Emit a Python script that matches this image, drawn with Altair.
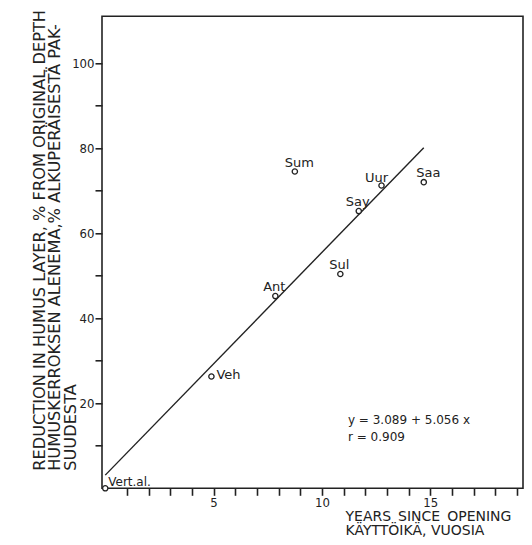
import altair as alt
import pandas as pd

# ---- data ----
site = ["Vert.al.", "Veh", "Ant", "Sum", "Sul", "Say", "Uur", "Saa"]
years = [0.0, 4.9, 7.85, 8.75, 10.85, 11.7, 12.75, 14.7]
reduction = [0.0, 26.3, 45.2, 74.5, 50.4, 65.2, 71.2, 72.0]

fit_years = [0.0, 14.7]
fit_reduction = [3.1, 80.1]

eq_lines = ["y = 3.089 + 5.056 x", "r = 0.909"]
eq_years = [11.2]
eq_reduction = [15.1]

x_tick_values = list(range(1, 20))
y_tick_values = list(range(10, 101, 10))

x_title = ["YEARS\u2002SINCE\u2002OPENING", "KÄYTTÖIKÄ, VUOSIA"]
y_title = [
    "REDUCTION IN HUMUS LAYER, % FROM ORIGINAL DEPTH",
    "HUMUSKERROKSEN ALENEMA,% ALKUPERÄISESTÄ PAK-",
    "SUUDESTA",
]

INK = "#222222"
FONT = "DejaVu Sans"
NUM_FONT = "DejaVu Sans Condensed, DejaVu Sans"

df = pd.DataFrame({"site": site, "years": years, "reduction": reduction})
fit_df = pd.DataFrame({"years": fit_years, "reduction": fit_reduction})
eq_df = pd.DataFrame({"years": eq_years, "reduction": eq_reduction,
                      "text": ["\n".join(eq_lines)]})

x_axis = alt.Axis(
    values=x_tick_values,
    labelExpr="datum.value % 5 === 0 ? datum.label : ''",
    title=x_title, titleX=243, titleY=31.7, titleAlign="left",
    titleBaseline="alphabetic", titleAngle=0, titleFontSize=14,
    titleLineHeight=14.5, titleFontWeight="normal", titleFont=FONT,
    titleColor=INK, grid=False, domain=False, tickSize=7, tickWidth=1.6,
    tickColor=INK, labelFont=NUM_FONT, labelFontSize=13, labelPadding=1.5,
    labelColor=INK,
)
y_axis = alt.Axis(
    values=y_tick_values,
    labelExpr="datum.value % 20 === 0 ? datum.label : ''",
    title=y_title, titleX=-71, titleY=454, titleAlign="left",
    titleBaseline="top", titleAngle=270, titleFontSize=16.2,
    titleLineHeight=15.5, titleFontWeight="normal", titleFont=FONT,
    titleColor=INK, grid=False, domain=False, tickSize=7, tickWidth=1.6,
    tickColor=INK, labelFont=NUM_FONT, labelFontSize=13, labelPadding=1,
    labelColor=INK,
)

X = alt.X("years:Q", scale=alt.Scale(domain=[-0.15, 19.28], nice=False, zero=False), axis=x_axis)
Y = alt.Y("reduction:Q", scale=alt.Scale(domain=[0, 111], nice=False, zero=False), axis=y_axis)

line = alt.Chart(fit_df).mark_line(color=INK, strokeWidth=1.4).encode(x=X, y=Y)

points = alt.Chart(df).mark_point(
    shape="circle", size=28, fill="white", fillOpacity=1, stroke=INK,
    strokeWidth=1.3, opacity=1
).encode(x=X, y=Y)

label_groups = [
    (["Say", "Sul", "Ant"], "center", -1, -5, 13),
    (["Sum", "Saa"], "center", 4.5, -5, 13),
    (["Uur"], "center", -5, -4, 13),
    (["Veh"], "left", 5, 3, 13),
    (["Vert.al."], "left", 3, -2, 12),
]
label_layers = []
for names, align, dx, dy, fs in label_groups:
    label_layers.append(
        alt.Chart(df)
        .transform_filter(alt.FieldOneOfPredicate(field="site", oneOf=names))
        .mark_text(align=align, baseline="alphabetic", dx=dx, dy=dy,
                   font=FONT, fontSize=fs, color=INK)
        .encode(x=X, y=Y, text="site:N")
    )

eq = alt.Chart(eq_df).mark_text(
    align="left", baseline="alphabetic", lineBreak="\n", lineHeight=17,
    font=FONT, fontSize=12, color=INK
).encode(x=X, y=Y, text="text:N")

chart = (
    alt.layer(line, points, *label_layers, eq)
    .properties(
        width=421, height=472,
        padding={"left": 94, "top": 8.3, "right": 1, "bottom": 48.7},
        autosize=alt.AutoSizeParams(type="none"),
        background="white",
    )
    .configure_view(stroke=INK, strokeWidth=1.6)
)

chart.save("out.html", embed_options={"renderer": "svg", "actions": False})
